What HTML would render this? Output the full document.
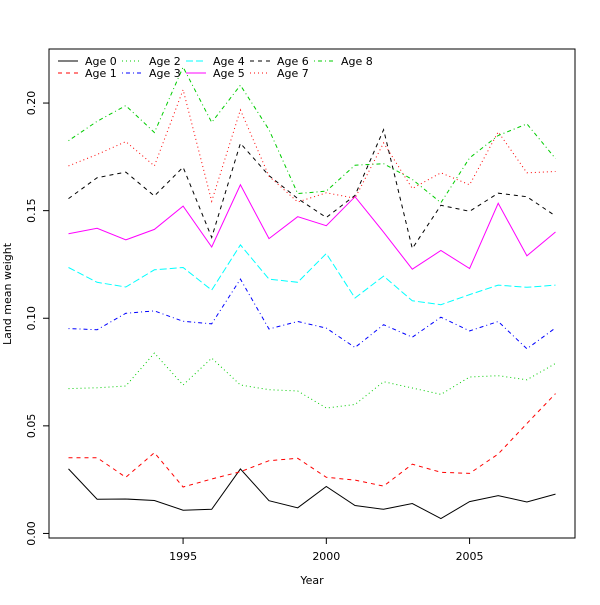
<!DOCTYPE html>
<html><head><meta charset="utf-8"><style>
html,body{margin:0;padding:0;background:#fff;}
svg text{font-family:"DejaVu Sans","Liberation Sans",sans-serif;font-size:11px;fill:#000;}
</style></head><body>
<svg id="chart" width="600" height="600" xmlns="http://www.w3.org/2000/svg">
<rect x="0" y="0" width="600" height="600" fill="#fff"/>
<g id="marks"></g>
<rect x="49" y="49" width="526" height="489" fill="none" stroke="#000" stroke-width="1"/>
<g id="axes"></g>
<text x="312" y="584" text-anchor="middle">Year</text>
<text transform="translate(11,294) rotate(-90)" text-anchor="middle">Land mean weight</text>
<g id="legend"></g>
</svg>
<script>
const years = [1991,1992,1993,1994,1995,1996,1997,1998,1999,2000,2001,2002,2003,2004,2005,2006,2007,2008];
const age0 = [0.0300,0.0159,0.0160,0.0153,0.0108,0.0112,0.0300,0.0152,0.0119,0.0218,0.0130,0.0112,0.0139,0.0069,0.0148,0.0176,0.0146,0.0183];
const age1 = [0.0352,0.0352,0.0261,0.0375,0.0216,0.0253,0.0287,0.0338,0.0349,0.0261,0.0248,0.0220,0.0322,0.0284,0.0279,0.0369,0.0511,0.0650];
const age2 = [0.0673,0.0677,0.0685,0.0838,0.0690,0.0815,0.0690,0.0668,0.0662,0.0583,0.0599,0.0705,0.0676,0.0646,0.0727,0.0733,0.0714,0.0790];
const age3 = [0.0952,0.0947,0.1023,0.1034,0.0986,0.0974,0.1182,0.0950,0.0985,0.0954,0.0864,0.0970,0.0912,0.1005,0.0941,0.0985,0.0858,0.0955];
const age4 = [0.1236,0.1167,0.1145,0.1225,0.1236,0.1131,0.1341,0.1182,0.1167,0.1301,0.1094,0.1196,0.1081,0.1063,0.1110,0.1154,0.1144,0.1154];
const age5 = [0.1393,0.1418,0.1364,0.1413,0.1521,0.1331,0.1620,0.1370,0.1472,0.1430,0.1565,0.1400,0.1228,0.1315,0.1231,0.1534,0.1290,0.1401];
const age6 = [0.1556,0.1653,0.1679,0.1568,0.1702,0.1375,0.1813,0.1663,0.1556,0.1468,0.1571,0.1876,0.1324,0.1525,0.1497,0.1581,0.1565,0.1475];
const age7 = [0.1708,0.1761,0.1821,0.1708,0.2062,0.1544,0.1968,0.1660,0.1540,0.1583,0.1558,0.1815,0.1603,0.1676,0.1620,0.1866,0.1676,0.1682];
const age8 = [0.1825,0.1915,0.1988,0.1863,0.2167,0.1910,0.2083,0.1876,0.1579,0.1591,0.1711,0.1718,0.1645,0.1537,0.1745,0.1849,0.1903,0.1742];
const seriesNames = ["Age 0","Age 1","Age 2","Age 3","Age 4","Age 5","Age 6","Age 7","Age 8"];
const xTicks = [1995,2000,2005];
const yTicks = [0.00,0.05,0.10,0.15,0.20];
const yTickLabels = ["0.00","0.05","0.10","0.15","0.20"];

const NS="http://www.w3.org/2000/svg";
const X0=49,X1=575,Y0=538,Y1=49;
const xmin=1991-0.04*17, xmax=2008+0.04*17;
const ymin=0.0063-0.04*0.2104, ymax=0.2167+0.04*0.2104;
function xs(v){return X0+(v-xmin)/(xmax-xmin)*(X1-X0);}
function ys(v){return Y0-(v-ymin)/(ymax-ymin)*(Y0-Y1);}
const all=[age0,age1,age2,age3,age4,age5,age6,age7,age8];
const cols=["#000","#f00","#0c0","#00f","#0ff","#f0f","#000","#f00","#0c0"];
const dashes=["","4,4","1,3","1,3,4,3","7,3","","4,4","1,3","1,3,4,3"];
const marks=document.getElementById('marks');
all.forEach((s,i)=>{
  const p=document.createElementNS(NS,'polyline');
  p.setAttribute('points',s.map((v,j)=>xs(years[j]).toFixed(1)+','+ys(v).toFixed(1)).join(' '));
  p.setAttribute('fill','none');p.setAttribute('stroke',cols[i]);p.setAttribute('stroke-width','1');
  if(dashes[i])p.setAttribute('stroke-dasharray',dashes[i]);
  
  
  marks.appendChild(p);
});
const axes=document.getElementById('axes');
function ln(x1,y1,x2,y2){const l=document.createElementNS(NS,'line');l.setAttribute('x1',x1);l.setAttribute('y1',y1);l.setAttribute('x2',x2);l.setAttribute('y2',y2);l.setAttribute('stroke','#000');return l;}
function tx(x,y,t,anchor,rot){const e=document.createElementNS(NS,'text');e.setAttribute('text-anchor',anchor);if(rot)e.setAttribute('transform','translate('+x+','+y+') rotate(-90)');else{e.setAttribute('x',x);e.setAttribute('y',y);}e.textContent=t;return e;}
xTicks.forEach(t=>{
  const x=xs(t);
  const l=ln(x,Y0,x,Y0+6);
  
  
  axes.appendChild(l);
  const e=tx(x,Y0+22,String(t),'middle');
  
  
  axes.appendChild(e);
});
yTicks.forEach((t,i)=>{
  const y=ys(t);
  const l=ln(X0-6,y,X0,y);
  
  
  axes.appendChild(l);
  const e=tx(X0-14,y,yTickLabels[i],'middle',true);
  
  
  axes.appendChild(e);
});
const ya=ln(X0,ys(yTicks[0]),X0,ys(yTicks[yTicks.length-1]));
axes.appendChild(ya);
const xa=ln(xs(xTicks[0]),Y0,xs(xTicks[xTicks.length-1]),Y0);
axes.appendChild(xa);
const leg=document.getElementById('legend');
seriesNames.forEach((n,i)=>{
  const c=Math.floor(i/2), r=i%2;
  const lx=58+c*64, ly=61+r*12;
  const l=ln(lx,ly,lx+20,ly);
  l.setAttribute('stroke',cols[i]);
  if(dashes[i])l.setAttribute('stroke-dasharray',dashes[i]);
  
  
  leg.appendChild(l);
  const e=tx(lx+27,ly+4,n,'start');
  
  
  leg.appendChild(e);
});
</script>
</body></html>
